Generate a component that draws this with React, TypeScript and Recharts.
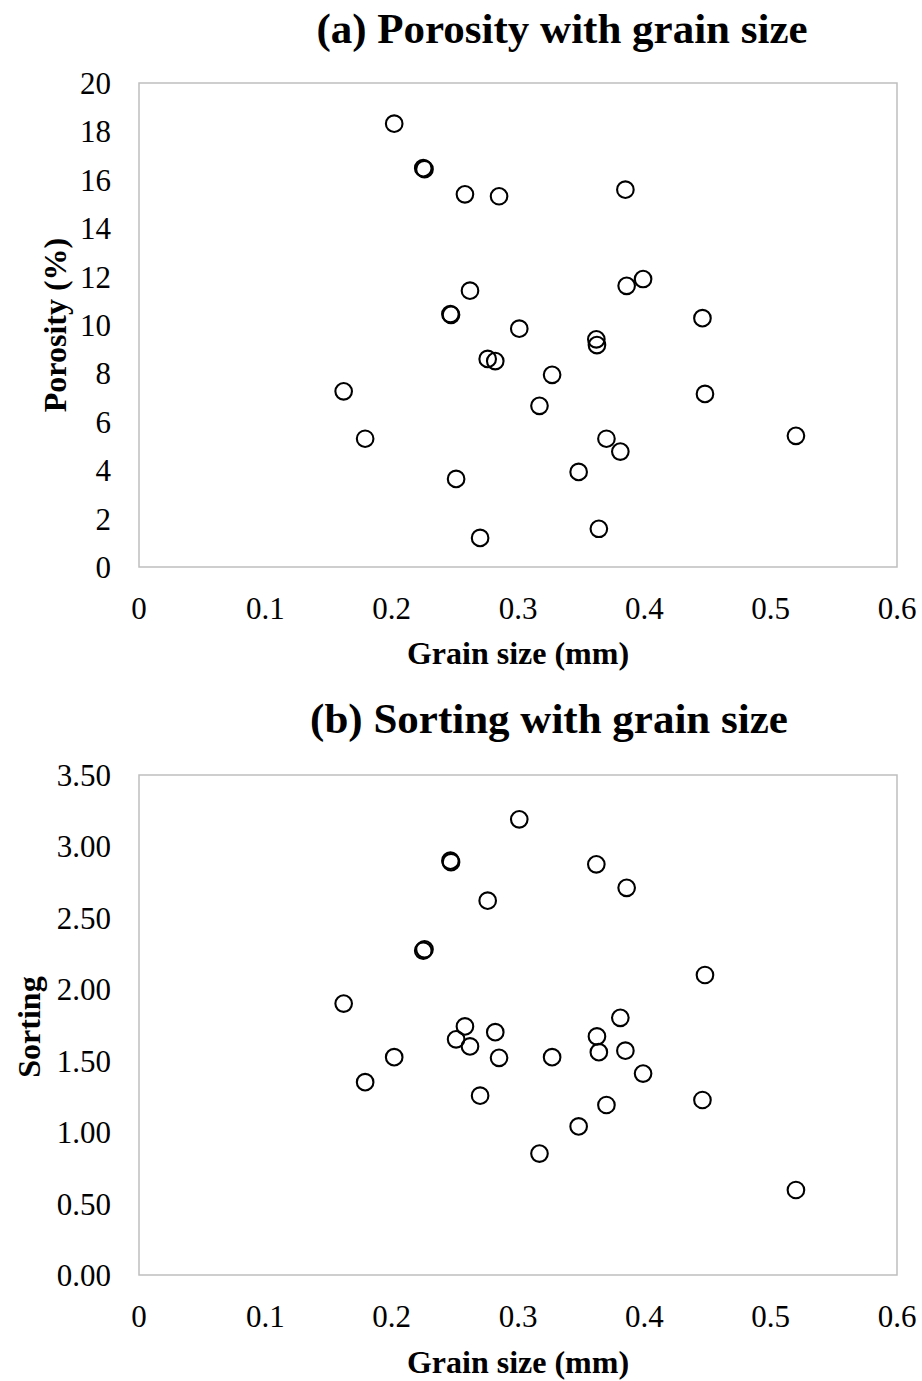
import { ScatterChart, Scatter, XAxis, YAxis, ReferenceArea } from "recharts";

// one entry per sample, same order in every array
const grainSize = [
  0.162, 0.179, 0.202, 0.225, 0.226, 0.247, 0.2465, 0.251, 0.258, 0.262,
  0.27, 0.276, 0.282, 0.285, 0.301, 0.317, 0.327, 0.348, 0.362, 0.3625,
  0.364, 0.37, 0.381, 0.385, 0.386, 0.399, 0.446, 0.448, 0.52,
];
const porosity = [
  7.26, 5.3, 18.32, 16.48, 16.44, 10.42, 10.45, 3.64, 15.4, 11.42,
  1.2, 8.6, 8.51, 15.32, 9.85, 6.66, 7.94, 3.93, 9.41, 9.17,
  1.58, 5.3, 4.77, 15.59, 11.62, 11.9, 10.28, 7.15, 5.42,
];
const sorting = [
  1.9, 1.35, 1.525, 2.27, 2.28, 2.89, 2.9, 1.65, 1.74, 1.6,
  1.255, 2.62, 1.7, 1.52, 3.19, 0.85, 1.525, 1.04, 2.875, 1.67,
  1.56, 1.19, 1.8, 1.57, 2.71, 1.41, 1.225, 2.1, 0.595,
];

const grainTicks = [0, 0.1, 0.2, 0.3, 0.4, 0.5, 0.6];
const porosityTicks = [0, 2, 4, 6, 8, 10, 12, 14, 16, 18, 20];
const sortingTicks = [0, 0.5, 1, 1.5, 2, 2.5, 3, 3.5];

const porosityData = grainSize.map((g, i) => ({ x: g, y: porosity[i] }));
const sortingData = grainSize.map((g, i) => ({ x: g, y: sorting[i] }));

const FONT = "'Liberation Serif', 'Times New Roman', serif";

const Ring = (props: any) => (
  <circle cx={props.cx} cy={props.cy} r={8.3} fill="none" stroke="#000" strokeWidth={2.1} />
);

const AxisTitle = ({ px, py, text, vertical }: any) => (
  <text
    x={px}
    y={py}
    textAnchor="middle"
    fontSize={32}
    fontWeight="bold"
    fontFamily={FONT}
    fill="#000"
    transform={vertical ? `rotate(-90, ${px}, ${py})` : undefined}
  >
    {text}
  </text>
);

const Title = ({ text, left, top }: { text: string; left: number; top: number }) => (
  <div
    style={{
      position: "absolute",
      left,
      top,
      transform: "translateX(-50%)",
      whiteSpace: "nowrap",
      fontSize: 43,
      lineHeight: 1,
      fontWeight: "bold",
      fontFamily: FONT,
      color: "#000",
    }}
  >
    {text}
  </div>
);

const tickStyle = { fill: "#000", fontSize: 31, fontFamily: FONT };

export default function App() {
  return (
    <div
      style={{
        position: "absolute",
        left: 0,
        top: 0,
        width: 922,
        height: 1381,
        background: "#fff",
        fontFamily: FONT,
      }}
    >
      <Title text="(a) Porosity with grain size" left={562} top={7} />
      <div style={{ position: "absolute", left: 0, top: 0 }}>
        <ScatterChart width={922} height={690} margin={{ top: 83, right: 25, bottom: 23, left: 39 }}>
          <XAxis
            type="number"
            dataKey="x"
            domain={[0, 0.6]}
            ticks={grainTicks}
            interval={0}
            axisLine={false}
            tickLine={false}
            tickSize={0}
            tickMargin={30}
            height={100}
            tick={tickStyle}
            label={<AxisTitle px={518} py={664} text="Grain size (mm)" />}
          />
          <YAxis
            type="number"
            dataKey="y"
            domain={[0, 20]}
            ticks={porosityTicks}
            interval={0}
            axisLine={false}
            tickLine={false}
            tickSize={0}
            tickMargin={28}
            width={100}
            tick={tickStyle}
            label={<AxisTitle px={66} py={325} text="Porosity (%)" vertical />}
          />
          <ReferenceArea x1={0} x2={0.6} y1={0} y2={20} fill="none" stroke="#bfbfbf" strokeWidth={1.5} />
          <Scatter data={porosityData} shape={Ring} isAnimationActive={false} />
        </ScatterChart>
      </div>

      <Title text="(b) Sorting with grain size" left={549} top={697} />
      <div style={{ position: "absolute", left: 0, top: 690 }}>
        <ScatterChart width={922} height={691} margin={{ top: 85, right: 25, bottom: 6, left: 39 }}>
          <XAxis
            type="number"
            dataKey="x"
            domain={[0, 0.6]}
            ticks={grainTicks}
            interval={0}
            axisLine={false}
            tickLine={false}
            tickSize={0}
            tickMargin={30}
            height={100}
            tick={tickStyle}
            label={<AxisTitle px={518} py={683} text="Grain size (mm)" />}
          />
          <YAxis
            type="number"
            dataKey="y"
            domain={[0, 3.5]}
            ticks={sortingTicks}
            interval={0}
            tickFormatter={(v: number) => v.toFixed(2)}
            axisLine={false}
            tickLine={false}
            tickSize={0}
            tickMargin={28}
            width={100}
            tick={tickStyle}
            label={<AxisTitle px={40} py={337} text="Sorting" vertical />}
          />
          <ReferenceArea x1={0} x2={0.6} y1={0} y2={3.5} fill="none" stroke="#bfbfbf" strokeWidth={1.5} />
          <Scatter data={sortingData} shape={Ring} isAnimationActive={false} />
        </ScatterChart>
      </div>
    </div>
  );
}
